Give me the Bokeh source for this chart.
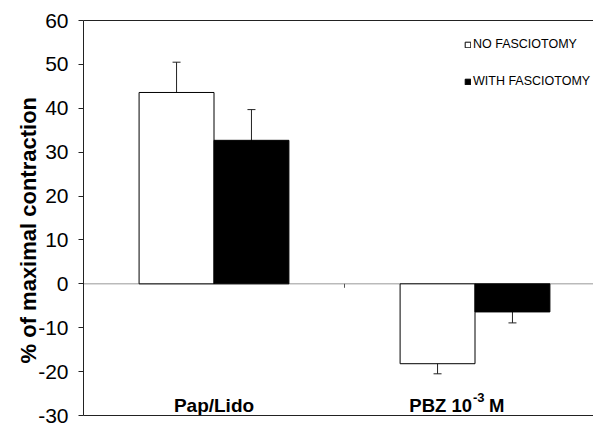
from bokeh.plotting import figure
from bokeh.models import (Range1d, LinearAxis, FixedTicker, Whisker, TeeHead,
                          ColumnDataSource, Span, Legend, LegendItem)
from bokeh.embed import file_html
from bokeh.resources import INLINE
from bokeh.core.properties import value

# ---- data ----
categories = ["Pap/Lido", "PBZ 10"]
cat_superscript = ["", "-3"]
cat_suffix = ["", "M"]
series_names = ["NO FASCIOTOMY", "WITH FASCIOTOMY"]
no_fasciotomy = [43.6, -18.2]
no_fasciotomy_err = [6.9, 2.3]
with_fasciotomy = [32.7, -6.4]
with_fasciotomy_err = [7.0, 2.5]
y_ticks = [-30, -20, -10, 0, 10, 20, 30, 40, 50, 60]

FONT = "Liberation Sans"
n = len(categories)
centers = [i + 0.5 for i in range(n)]
bw = 0.287

p = figure(width=593, height=425, x_range=Range1d(0, 1.954), y_range=Range1d(-30, 60),
           output_backend="svg", toolbar_location=None,
           x_axis_location=None, y_axis_location=None,
           min_border_left=83, min_border_right=0, min_border_top=20, min_border_bottom=10)
p.outline_line_color = None
p.xgrid.visible = False
p.ygrid.visible = False
p.background_fill_color = "white"
p.border_fill_color = "white"

# left axis
yax = LinearAxis(ticker=FixedTicker(ticks=y_ticks))
yax.axis_line_color = "#222222"
yax.major_tick_line_color = "#222222"
yax.major_tick_out = 5
yax.major_tick_in = 0
yax.minor_tick_line_color = None
yax.major_label_standoff = 10
yax.major_label_text_font = FONT
yax.major_label_text_font_size = "21px"
yax.major_label_text_color = "black"
yax.major_label_overrides = {t: str(t) for t in y_ticks}
yax.axis_label = "% of maximal contraction\u00a0\u00a0\u00a0\u00a0"
yax.axis_label_text_font = FONT
yax.axis_label_text_font_style = "bold"
yax.axis_label_text_font_size = "22px"
yax.axis_label_standoff = -6
yax.axis_label_text_color = "black"
p.add_layout(yax, "left")

# bottom and top lines
for loc in ("below", "above"):
    ax = LinearAxis(ticker=FixedTicker(ticks=[]))
    ax.axis_line_color = "#222222"
    ax.major_tick_line_color = None
    ax.minor_tick_line_color = None
    ax.major_label_text_font_size = "0px"
    p.add_layout(ax, loc)

# zero line
p.add_layout(Span(location=0, dimension="width", line_color="#999999", line_width=1, level="underlay"))
# category divider ticks on zero line
dividers = list(range(1, n))
p.segment(x0=dividers, y0=[0] * len(dividers), x1=dividers, y1=[-0.9] * len(dividers),
          line_color="#555555", line_width=1)

x_white = [c - bw / 2 for c in centers]
x_black = [c + bw / 2 for c in centers]

r1 = p.vbar(x=x_white, top=no_fasciotomy, bottom=0, width=bw, fill_color="white",
            line_color="black", line_width=1)
r2 = p.vbar(x=x_black, top=with_fasciotomy, bottom=0, width=bw, fill_color="black",
            line_color="black", line_width=1)

for xs, vals, errs in ((x_white, no_fasciotomy, no_fasciotomy_err),
                       (x_black, with_fasciotomy, with_fasciotomy_err)):
    src = ColumnDataSource(dict(x=xs, upper=[v + e for v, e in zip(vals, errs)],
                                lower=[v - e for v, e in zip(vals, errs)]))
    w = Whisker(base="x", upper="upper", lower="lower", source=src, line_color="#222222",
                line_width=1,
                upper_head=TeeHead(size=8, line_color="#222222", line_width=1),
                lower_head=TeeHead(size=8, line_color="#222222", line_width=1))
    p.add_layout(w)

# category labels
label_y = -27.7
p.text(x=[centers[0]], y=[label_y], text=[categories[0]], text_align="center",
       text_baseline="alphabetic", text_font=value(FONT), text_font_style="bold",
       text_font_size="19px", text_color="black")
p.text(x=[centers[1]], y=[label_y], text=[categories[1]], text_align="right",
       text_baseline="alphabetic", x_offset=-3, text_font=value(FONT),
       text_font_style="bold", text_font_size="18.5px", text_color="black")
p.text(x=[centers[1]], y=[label_y], text=[cat_superscript[1]], text_align="left",
       text_baseline="alphabetic", x_offset=-2, y_offset=-8, text_font=value(FONT),
       text_font_style="bold", text_font_size="13px", text_color="black")
p.text(x=[centers[1]], y=[label_y], text=[cat_suffix[1]], text_align="left",
       text_baseline="alphabetic", x_offset=14, text_font=value(FONT),
       text_font_style="bold", text_font_size="18.5px", text_color="black")

legend = Legend(items=[LegendItem(label=series_names[0], renderers=[r1]),
                       LegendItem(label=series_names[1], renderers=[r2])],
                location=(381, 324), border_line_color=None, background_fill_alpha=0,
                label_text_font=FONT, label_text_font_size="12.5px", label_text_color="black",
                glyph_width=7, glyph_height=7, spacing=17, label_height=20,
                padding=0, margin=0, label_standoff=2)
p.add_layout(legend)

open("out.html", "w").write(file_html(p, INLINE))
